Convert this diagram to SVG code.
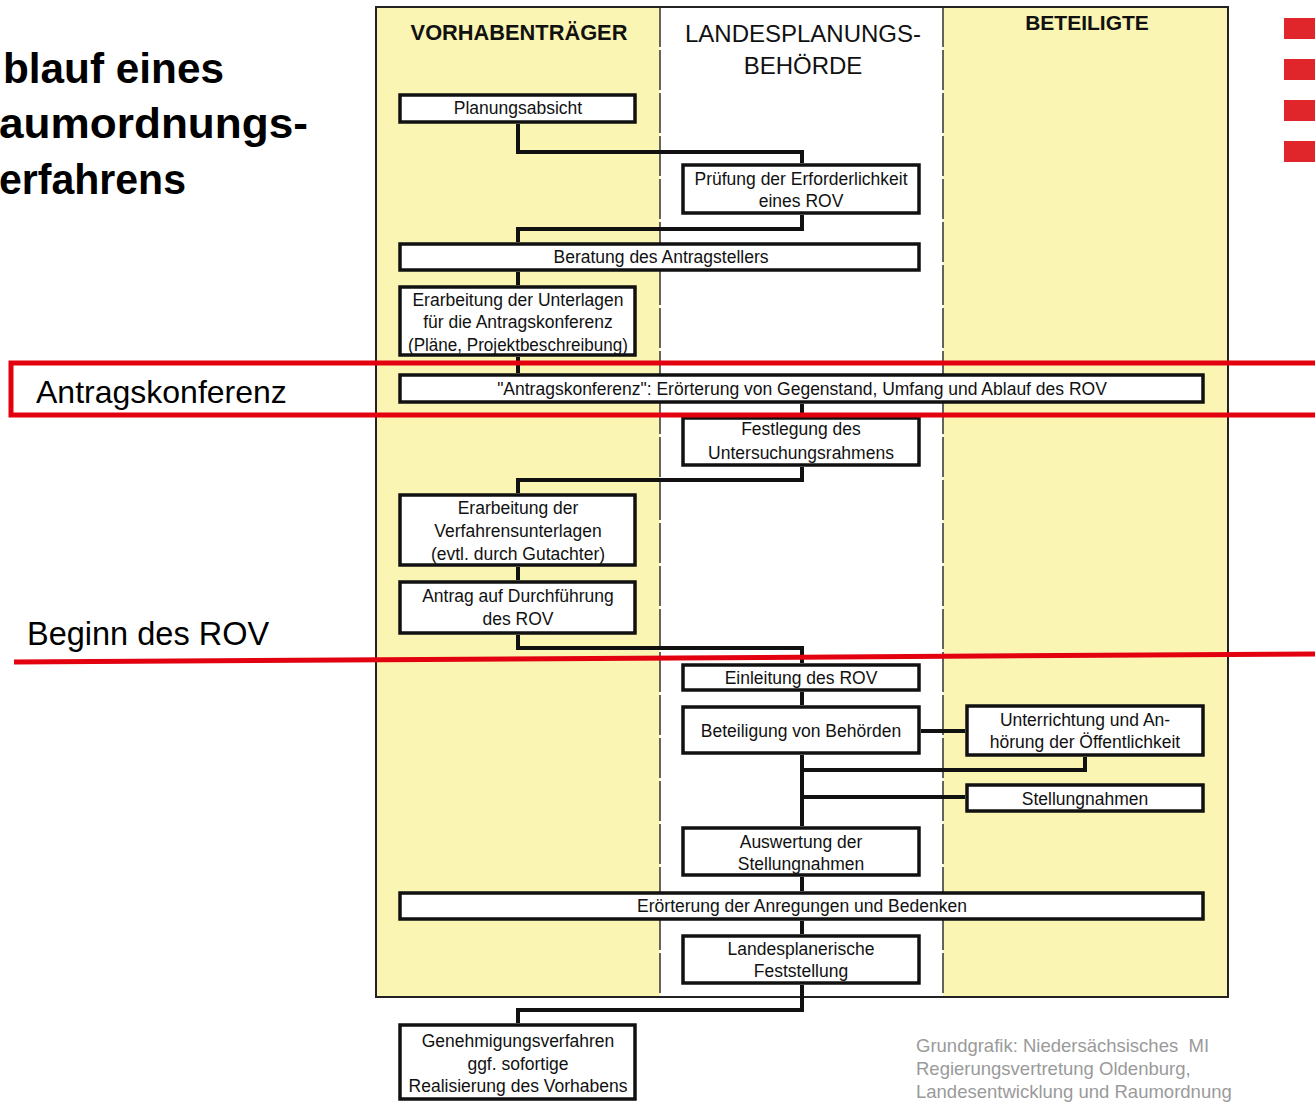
<svg xmlns="http://www.w3.org/2000/svg" width="1315" height="1102" viewBox="0 0 1315 1102">
<style>
.box{fill:#fff;stroke:#111;stroke-width:3.5}
.bt{font-family:"Liberation Sans",Arial,sans-serif;font-size:17.5px;fill:#111;text-anchor:middle}
.hd{font-family:"Liberation Sans",Arial,sans-serif;fill:#111;text-anchor:middle}
.conn{fill:none;stroke:#111;stroke-width:4}
.ttl{font-family:"Liberation Sans",Arial,sans-serif;font-size:42px;font-weight:bold;fill:#000}
.ann{font-family:"Liberation Sans",Arial,sans-serif;fill:#000}
.red{fill:none;stroke:#e3000f;stroke-width:5}
.src{font-family:"Liberation Sans",Arial,sans-serif;font-size:18.5px;fill:#9a9a9a}
.div{stroke:#333;stroke-width:1.5;stroke-dasharray:40 3}
</style>
<rect width="1315" height="1102" fill="#fff"/>
<g id="title">
<text class="ttl" x="3" y="83" textLength="221" lengthAdjust="spacingAndGlyphs">blauf eines</text>
<text class="ttl" x="-1" y="138" textLength="309" lengthAdjust="spacingAndGlyphs">aumordnungs-</text>
<text class="ttl" x="-1" y="194" textLength="187" lengthAdjust="spacingAndGlyphs">erfahrens</text>
</g>
<g id="logo" fill="#e0262b">
<rect x="1284" y="18" width="35" height="21"/>
<rect x="1284" y="59" width="35" height="21"/>
<rect x="1284" y="100" width="35" height="21"/>
<rect x="1284" y="141" width="35" height="21"/>
</g>
<g id="swimlanes">
<rect x="376" y="7" width="284" height="990" fill="#faf5b2"/>
<rect x="660" y="7" width="283" height="990" fill="#fff"/>
<rect x="943" y="7" width="285" height="990" fill="#faf5b2"/>
<line class="div" x1="660" y1="7" x2="660" y2="997"/>
<line class="div" x1="943" y1="7" x2="943" y2="997"/>
<rect x="376" y="7" width="852" height="990" fill="none" stroke="#222" stroke-width="2"/>
<text class="hd" x="519" y="40" font-size="21.8" font-weight="bold">VORHABENTRÄGER</text>
<text class="hd" x="803" y="42" font-size="24">LANDESPLANUNGS-</text>
<text class="hd" x="803" y="74" font-size="24">BEHÖRDE</text>
<text class="hd" x="1087" y="30" font-size="21" font-weight="bold">BETEILIGTE</text>
</g>
<g id="connectors">
<path class="conn" d="M518 124 V152 H802 V163"/>
<path class="conn" d="M802 215 V229 H518 V242"/>
<path class="conn" d="M518 272 V285"/>
<path class="conn" d="M518 357 V373"/>
<path class="conn" d="M802 404 V416"/>
<path class="conn" d="M802 467 V480 H518 V493"/>
<path class="conn" d="M518 567 V580"/>
<path class="conn" d="M518 635 V648 H802 V663"/>
<path class="conn" d="M802 692 V705"/>
<path class="conn" d="M921 731 H965"/>
<path class="conn" d="M802 755 V826"/>
<path class="conn" d="M1085 757 V770 H802"/>
<path class="conn" d="M802 797 H965"/>
<path class="conn" d="M802 877 V891"/>
<path class="conn" d="M802 921 V934"/>
<path class="conn" d="M802 985 V1010 H518 V1023"/>
</g>
<g id="n1"><rect class="box" x="400" y="95" width="235" height="27"/><text class="bt" x="518" y="114">Planungsabsicht</text></g>
<g id="n2"><rect class="box" x="683" y="165" width="236" height="48"/><text class="bt" x="801" y="185">Prüfung der Erforderlichkeit</text><text class="bt" x="801" y="207">eines ROV</text></g>
<g id="n3"><rect class="box" x="400" y="244" width="519" height="26"/><text class="bt" x="661" y="263">Beratung des Antragstellers</text></g>
<g id="n4"><rect class="box" x="400" y="287" width="235" height="68"/><text class="bt" x="518" y="306">Erarbeitung der Unterlagen</text><text class="bt" x="518" y="328">für die Antragskonferenz</text><text class="bt" x="518" y="351" textLength="220" lengthAdjust="spacingAndGlyphs">(Pläne, Projektbeschreibung)</text></g>
<g id="n5"><rect class="box" x="400" y="375" width="803" height="27"/><text class="bt" x="802" y="395">"Antragskonferenz": Erörterung von Gegenstand, Umfang und Ablauf des ROV</text></g>
<g id="n6"><rect class="box" x="683" y="418" width="236" height="47"/><text class="bt" x="801" y="435">Festlegung des</text><text class="bt" x="801" y="459">Untersuchungsrahmens</text></g>
<g id="n7"><rect class="box" x="400" y="495" width="235" height="70"/><text class="bt" x="518" y="514">Erarbeitung der</text><text class="bt" x="518" y="537">Verfahrensunterlagen</text><text class="bt" x="518" y="560">(evtl. durch Gutachter)</text></g>
<g id="n8"><rect class="box" x="400" y="582" width="235" height="51"/><text class="bt" x="518" y="602">Antrag auf Durchführung</text><text class="bt" x="518" y="625">des ROV</text></g>
<g id="n9"><rect class="box" x="683" y="665" width="236" height="25"/><text class="bt" x="801" y="684">Einleitung des ROV</text></g>
<g id="n10"><rect class="box" x="683" y="707" width="236" height="46"/><text class="bt" x="801" y="737">Beteiligung von Behörden</text></g>
<g id="n11"><rect class="box" x="967" y="706" width="236" height="49"/><text class="bt" x="1085" y="726">Unterrichtung und An-</text><text class="bt" x="1085" y="748">hörung der Öffentlichkeit</text></g>
<g id="n12"><rect class="box" x="967" y="785" width="236" height="26"/><text class="bt" x="1085" y="805">Stellungnahmen</text></g>
<g id="n13"><rect class="box" x="683" y="828" width="236" height="47"/><text class="bt" x="801" y="848">Auswertung der</text><text class="bt" x="801" y="870">Stellungnahmen</text></g>
<g id="n14"><rect class="box" x="400" y="893" width="803" height="26"/><text class="bt" x="802" y="912">Erörterung der Anregungen und Bedenken</text></g>
<g id="n15"><rect class="box" x="683" y="936" width="236" height="47"/><text class="bt" x="801" y="955">Landesplanerische</text><text class="bt" x="801" y="977">Feststellung</text></g>
<g id="n16"><rect class="box" x="400" y="1025" width="235" height="74"/><text class="bt" x="518" y="1047">Genehmigungsverfahren</text><text class="bt" x="518" y="1070">ggf. sofortige</text><text class="bt" x="518" y="1092">Realisierung des Vorhabens</text></g>
<g id="annotations">
<rect class="red" x="11" y="363" width="1320" height="52"/>
<text class="ann" x="36" y="403" font-size="32">Antragskonferenz</text>
<text class="ann" x="27" y="645" font-size="32.5">Beginn des ROV</text>
<line class="red" x1="14" y1="662" x2="1315" y2="654"/>
</g>
<g id="source">
<text class="src" x="916" y="1052" xml:space="preserve">Grundgrafik: Niedersächsisches&#160; MI</text>
<text class="src" x="916" y="1075">Regierungsvertretung Oldenburg,</text>
<text class="src" x="916" y="1098">Landesentwicklung und Raumordnung</text>
</g>
</svg>
